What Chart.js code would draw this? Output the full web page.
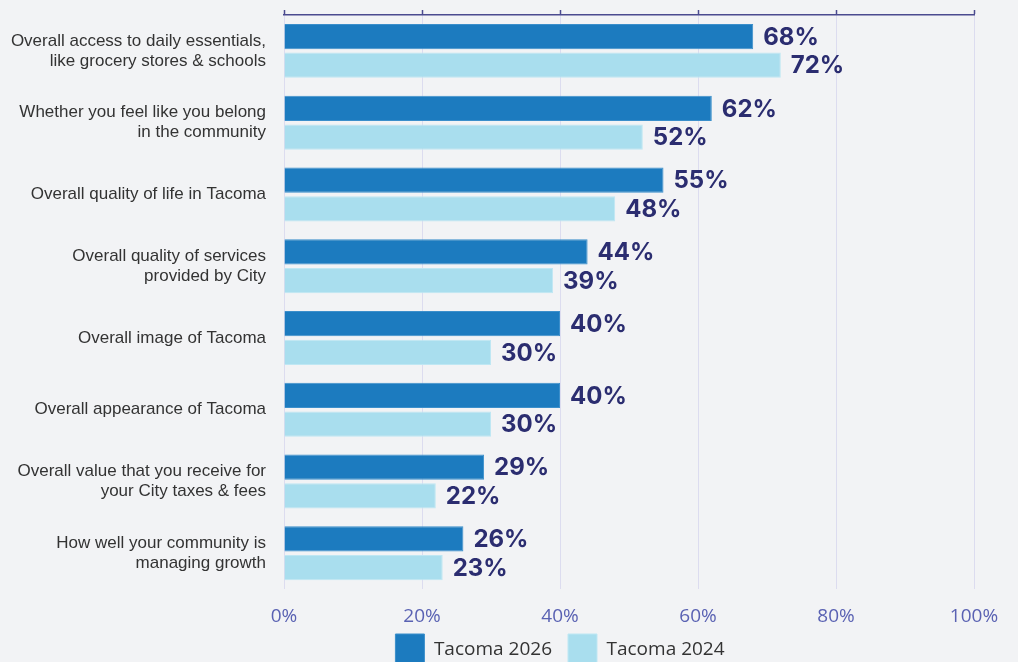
<!DOCTYPE html>
<html>
<head>
<meta charset="utf-8">
<script src="https://cdn.jsdelivr.net/npm/chart.js@4/dist/chart.umd.min.js"></script>
<style>
  html, body { margin: 0; padding: 0; background: #f2f3f5; overflow: hidden; }
  #wrap { width: 1018px; height: 702px; position: relative; }
</style>
</head>
<body>
<div id="wrap"><canvas id="chart"></canvas></div>
<script>
// categories, top to bottom
var categories = [
  ["Overall access to daily essentials,", "like grocery stores & schools"],
  ["Whether you feel like you belong", "in the community"],
  "Overall quality of life in Tacoma",
  ["Overall quality of services", "provided by City"],
  "Overall image of Tacoma",
  "Overall appearance of Tacoma",
  ["Overall value that you receive for", "your City taxes & fees"],
  ["How well your community is", "managing growth"]
];
var tacoma2026 = [68, 62, 55, 44, 40, 40, 29, 26];
var tacoma2024 = [72, 52, 48, 39, 30, 30, 22, 23];
var tickValues = [0, 20, 40, 60, 80, 100];

// draws the value next to each bar
var valueLabels = {
  id: 'valueLabels',
  afterDatasetsDraw: function(chart) {
    var ctx = chart.ctx;
    ctx.save();
    ctx.font = '700 24px Inter';
    ctx.fillStyle = '#2b2d70';
    ctx.textAlign = 'left';
    ctx.textBaseline = 'middle';
    chart.data.datasets.forEach(function(ds, i) {
      chart.getDatasetMeta(i).data.forEach(function(bar, j) {
        ctx.fillText(ds.data[j] + '%', bar.x + 10, bar.y + 1);
      });
    });
    ctx.restore();
  }
};

// move the legend a bit, it is not centred on the canvas in the original
var legendShift = {
  id: 'legendShift',
  afterLayout: function(chart) {
    var lg = chart.legend;
    lg.left += 73; lg.right += 73;
    lg.top -= 26; lg.bottom -= 26;
  }
};

new Chart(document.getElementById('chart'), {
  type: 'bar',
  data: {
    labels: categories,
    datasets: [
      {
        label: 'Tacoma 2026',
        data: tacoma2026,
        backgroundColor: '#1c7bbf',
        borderColor: '#3b8fcb',
        borderWidth: 1,
        categoryPercentage: 0.8,
        barPercentage: 0.88
      },
      {
        label: 'Tacoma 2024',
        data: tacoma2024,
        backgroundColor: '#a9deee',
        borderColor: '#bfe7f3',
        borderWidth: 1,
        categoryPercentage: 0.8,
        barPercentage: 0.88
      }
    ]
  },
  options: {
    indexAxis: 'y',
    responsive: true,
    maintainAspectRatio: false,
    animation: false,
    layout: { padding: { top: 10, right: 44, left: 0, bottom: 0 } },
    scales: {
      x: {
        min: 0, max: 100,
        afterBuildTicks: function(scale) {
          scale.ticks = tickValues.map(function(v) { return { value: v }; });
        },
        grid: { color: '#dcdcef', lineWidth: 1, drawTicks: false },
        border: { display: false },
        ticks: {
          padding: 16,
          color: '#5a62b3',
          font: { family: 'Open Sans', size: 19 },
          callback: function(v) { return v + '%'; }
        }
      },
      x2: {
        position: 'top',
        min: 0, max: 100,
        afterBuildTicks: function(scale) {
          scale.ticks = tickValues.map(function(v) { return { value: v }; });
        },
        afterFit: function(scale) { scale.height = 5; },
        grid: { drawOnChartArea: false, tickLength: 5, tickColor: '#4b4b8f', tickWidth: 1.5 },
        border: { display: true, color: '#4b4b8f', width: 1.5 },
        ticks: { display: false }
      },
      y: {
        grid: { display: false, drawTicks: false },
        border: { display: false },
        afterFit: function(scale) {
          scale.width = 284;
          scale.paddingTop = 0;
          scale.paddingBottom = 0;
        },
        ticks: {
          padding: 18,
          color: '#333333',
          font: { family: 'Liberation Sans', size: 17, lineHeight: 1.18 }
        }
      }
    },
    plugins: {
      legend: {
        position: 'bottom',
        labels: {
          boxWidth: 29,
          boxHeight: 32,
          padding: 16,
          color: '#333333',
          font: { family: 'Open Sans', size: 19 }
        }
      },
      tooltip: { enabled: false }
    }
  },
  plugins: [valueLabels, legendShift]
});
</script>
</body>
</html>
